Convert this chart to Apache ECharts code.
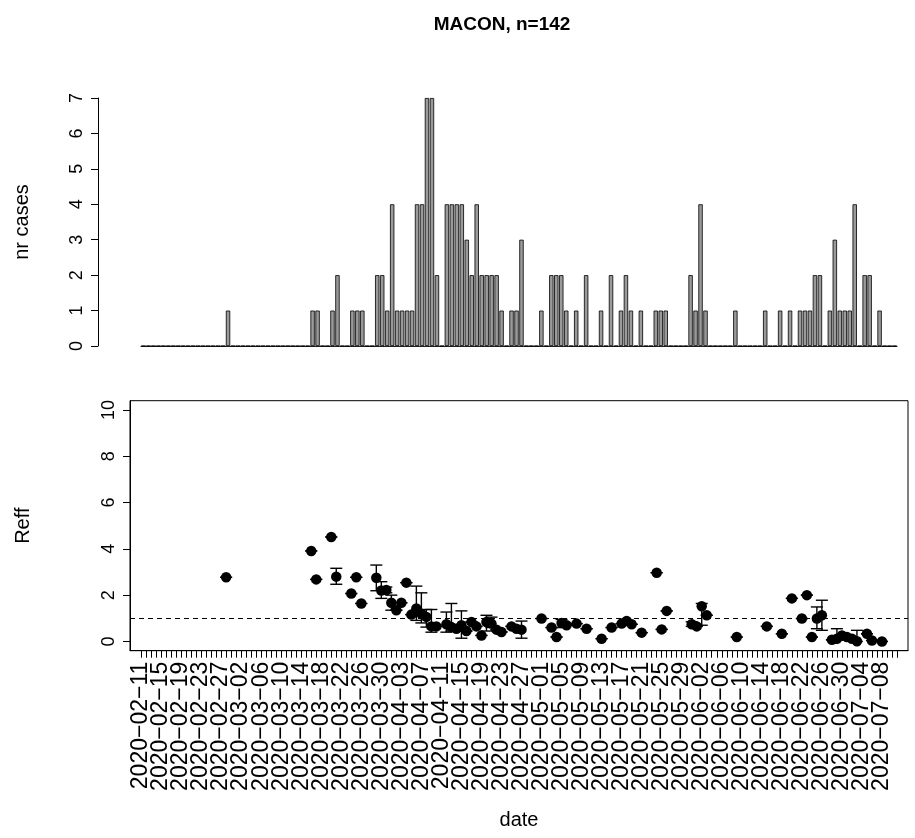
<!DOCTYPE html>
<html><head><meta charset="utf-8">
<script src="https://cdn.jsdelivr.net/npm/echarts@6/dist/echarts.min.js"></script>
<style>html,body{margin:0;padding:0;background:#fff}#c{width:915px;height:838px}</style>
</head><body><div id="c"></div>
<script>
const dates = [
'2020-02-11','2020-02-12','2020-02-13','2020-02-14','2020-02-15','2020-02-16','2020-02-17','2020-02-18','2020-02-19','2020-02-20',
'2020-02-21','2020-02-22','2020-02-23','2020-02-24','2020-02-25','2020-02-26','2020-02-27','2020-02-28','2020-02-29',
'2020-03-01','2020-03-02','2020-03-03','2020-03-04','2020-03-05','2020-03-06','2020-03-07','2020-03-08','2020-03-09','2020-03-10',
'2020-03-11','2020-03-12','2020-03-13','2020-03-14','2020-03-15','2020-03-16','2020-03-17','2020-03-18','2020-03-19','2020-03-20',
'2020-03-21','2020-03-22','2020-03-23','2020-03-24','2020-03-25','2020-03-26','2020-03-27','2020-03-28','2020-03-29','2020-03-30','2020-03-31',
'2020-04-01','2020-04-02','2020-04-03','2020-04-04','2020-04-05','2020-04-06','2020-04-07','2020-04-08','2020-04-09','2020-04-10',
'2020-04-11','2020-04-12','2020-04-13','2020-04-14','2020-04-15','2020-04-16','2020-04-17','2020-04-18','2020-04-19','2020-04-20',
'2020-04-21','2020-04-22','2020-04-23','2020-04-24','2020-04-25','2020-04-26','2020-04-27','2020-04-28','2020-04-29','2020-04-30',
'2020-05-01','2020-05-02','2020-05-03','2020-05-04','2020-05-05','2020-05-06','2020-05-07','2020-05-08','2020-05-09','2020-05-10',
'2020-05-11','2020-05-12','2020-05-13','2020-05-14','2020-05-15','2020-05-16','2020-05-17','2020-05-18','2020-05-19','2020-05-20',
'2020-05-21','2020-05-22','2020-05-23','2020-05-24','2020-05-25','2020-05-26','2020-05-27','2020-05-28','2020-05-29','2020-05-30','2020-05-31',
'2020-06-01','2020-06-02','2020-06-03','2020-06-04','2020-06-05','2020-06-06','2020-06-07','2020-06-08','2020-06-09','2020-06-10',
'2020-06-11','2020-06-12','2020-06-13','2020-06-14','2020-06-15','2020-06-16','2020-06-17','2020-06-18','2020-06-19','2020-06-20',
'2020-06-21','2020-06-22','2020-06-23','2020-06-24','2020-06-25','2020-06-26','2020-06-27','2020-06-28','2020-06-29','2020-06-30',
'2020-07-01','2020-07-02','2020-07-03','2020-07-04','2020-07-05','2020-07-06','2020-07-07','2020-07-08','2020-07-09','2020-07-10','2020-07-11'
];

const cases = [
0,0,0,0,0,0,0,0,0,0,
0,0,0,0,0,0,0,1,0,0,
0,0,0,0,0,0,0,0,0,0,
0,0,0,0,1,1,0,0,1,2,
0,0,1,1,1,0,0,2,2,1,
4,1,1,1,1,4,4,7,7,2,
0,4,4,4,4,3,2,4,2,2,
2,2,1,0,1,1,3,0,0,0,
1,0,2,2,2,1,0,1,0,2,
0,0,1,0,2,0,1,2,1,0,
1,0,0,1,1,1,0,0,0,0,
2,1,4,1,0,0,0,0,0,1,
0,0,0,0,0,1,0,0,1,0,
1,0,1,1,1,2,2,0,1,3,
1,1,1,4,0,2,2,0,1,0,
0,0
];

const xLabelDates = [
'2020-02-11','2020-02-15','2020-02-19','2020-02-23','2020-02-27','2020-03-02','2020-03-06','2020-03-10','2020-03-14','2020-03-18',
'2020-03-22','2020-03-26','2020-03-30','2020-04-03','2020-04-07','2020-04-11','2020-04-15','2020-04-19','2020-04-23','2020-04-27',
'2020-05-01','2020-05-05','2020-05-09','2020-05-13','2020-05-17','2020-05-21','2020-05-25','2020-05-29','2020-06-02','2020-06-06',
'2020-06-10','2020-06-14','2020-06-18','2020-06-22','2020-06-26','2020-06-30','2020-07-04','2020-07-08'
];
const caseTicks = [0,1,2,3,4,5,6,7];
const reffTicks = [0,2,4,6,8,10];
const reffThreshold = 1;

const reffDates = [
'2020-02-28','2020-03-16','2020-03-17','2020-03-20','2020-03-21','2020-03-24','2020-03-25','2020-03-26','2020-03-29','2020-03-30',
'2020-03-31','2020-04-01','2020-04-02','2020-04-03','2020-04-04','2020-04-05','2020-04-06','2020-04-07','2020-04-08','2020-04-09',
'2020-04-10','2020-04-12','2020-04-13','2020-04-14','2020-04-15','2020-04-16','2020-04-17','2020-04-18','2020-04-19','2020-04-20',
'2020-04-21','2020-04-22','2020-04-23','2020-04-25','2020-04-26','2020-04-27','2020-05-01','2020-05-03','2020-05-04','2020-05-05',
'2020-05-06','2020-05-08','2020-05-10','2020-05-13','2020-05-15','2020-05-17','2020-05-18','2020-05-19','2020-05-21','2020-05-24',
'2020-05-25','2020-05-26','2020-05-31','2020-06-01','2020-06-02','2020-06-03','2020-06-09','2020-06-15','2020-06-18','2020-06-20',
'2020-06-22','2020-06-23','2020-06-24','2020-06-25','2020-06-26','2020-06-28','2020-06-29','2020-06-30','2020-07-01','2020-07-02',
'2020-07-03','2020-07-05','2020-07-06','2020-07-08'
];
const reffValue = [
2.77,3.91,2.68,4.51,2.80,2.07,2.77,1.64,2.75,2.20,
2.22,1.67,1.35,1.67,2.54,1.16,1.42,1.20,1.06,0.65,
0.65,0.74,0.62,0.55,0.70,0.45,0.84,0.65,0.26,0.84,
0.77,0.51,0.41,0.65,0.55,0.51,0.99,0.60,0.19,0.80,
0.70,0.77,0.55,0.12,0.60,0.77,0.88,0.74,0.38,2.97,
0.52,1.32,0.74,0.65,1.52,1.13,0.19,0.65,0.33,1.86,
0.99,2.00,0.19,0.99,1.13,0.07,0.12,0.26,0.19,0.12,
0.01,0.33,0.04,0.00
];
const reffLow = [
2.77,3.91,2.68,4.51,2.47,2.07,2.77,1.64,2.19,1.86,
2.10,1.35,1.35,1.67,2.54,1.16,0.91,0.80,0.62,0.40,
0.65,0.40,0.45,0.55,0.14,0.45,0.84,0.65,0.26,0.45,
0.60,0.51,0.41,0.65,0.55,0.14,0.99,0.60,0.19,0.60,
0.70,0.77,0.55,0.12,0.60,0.77,0.88,0.74,0.38,2.97,
0.52,1.32,0.65,0.65,0.70,1.13,0.19,0.65,0.33,1.86,
0.99,2.00,0.19,0.55,0.48,0.07,0.05,0.26,0.19,0.12,
0.00,0.33,0.04,0.00
];
const reffHigh = [
2.77,3.91,2.68,4.51,3.16,2.07,2.77,1.64,3.30,2.58,
2.35,2.00,1.35,1.67,2.54,1.16,2.39,2.10,1.38,1.38,
0.65,1.27,1.64,0.55,1.32,0.45,0.84,0.65,0.26,1.13,
1.05,0.51,0.41,0.65,0.55,0.88,0.99,0.60,0.19,0.95,
0.70,0.77,0.55,0.12,0.60,0.77,0.88,0.74,0.38,2.97,
0.52,1.32,0.85,0.65,1.64,1.13,0.19,0.65,0.33,1.86,
0.99,2.00,0.19,1.49,1.78,0.07,0.55,0.26,0.19,0.12,
0.48,0.33,0.04,0.00
];

const FONT = '"Liberation Sans", Arial, Helvetica, sans-serif';
const FS = 18;
const FS_NAME = 20;
const FS_DATE = 23;
const dayIdx = d => dates.indexOf(d);
// R's PDF device draws '-' with the minus glyph
const asDrawn = s => s.replace(/-/g, '\u2212');
// labels are split over two overlaid axes so that none of them gets auto-hidden
const labelsA = xLabelDates.filter((d, k) => k % 2 === 0).map(dayIdx);
const labelsB = xLabelDates.filter((d, k) => k % 2 === 1).map(dayIdx);

const dateLabel = vals => ({
  show: true, rotate: 90, fontSize: FS_DATE, fontFamily: FONT, color: '#000', margin: 11,
  showMinLabel: true, showMaxLabel: true, hideOverlap: false,
  customValues: vals, formatter: v => asDrawn(dates[Math.round(v)])
});

const chart = echarts.init(document.getElementById('c'), null, {renderer: 'canvas'});
chart.setOption({
  animation: false,
  backgroundColor: '#fff',
  textStyle: {fontFamily: FONT, color: '#000'},
  title: {
    text: 'MACON, n=142', left: 497, top: 10, textAlign: 'center',
    textStyle: {fontFamily: FONT, fontWeight: 'bold', fontSize: 19, color: '#000'}
  },
  grid: [
    {left: 141, right: 18, top: 98, height: 248, show: false},
    {left: 130, right: 7, top: 400.7, height: 250, show: true, borderColor: '#000', borderWidth: 1, backgroundColor: 'transparent'}
  ],
  xAxis: [
    {gridIndex: 0, type: 'category', data: dates, boundaryGap: true,
     axisLine: {show: true, lineStyle: {color: '#222', width: 1.2}},
     axisTick: {show: false}, axisLabel: {show: false}, splitLine: {show: false}},
    {gridIndex: 1, type: 'value', min: -2.2, max: 153.2, position: 'bottom',
     axisLine: {show: true, onZero: false, lineStyle: {color: '#000', width: 1}},
     axisTick: {show: true, length: 7, lineStyle: {color: '#000', width: 1},
                customValues: dates.map((d, i) => i)},
     axisLabel: dateLabel(labelsA),
     splitLine: {show: false},
     name: 'date', nameLocation: 'middle', nameGap: 160,
     nameTextStyle: {fontSize: FS_NAME, fontFamily: FONT, color: '#000'}},
    {gridIndex: 1, type: 'value', min: -2.2, max: 153.2, position: 'bottom', offset: 0,
     axisLine: {show: false, onZero: false},
     axisTick: {show: false},
     axisLabel: dateLabel(labelsB),
     splitLine: {show: false}}
  ],
  yAxis: [
    {gridIndex: 0, type: 'value', min: 0, max: 7, interval: 1, offset: 43,
     axisLine: {show: true, lineStyle: {color: '#000', width: 1}},
     axisTick: {show: true, length: 7, lineStyle: {color: '#000'}},
     axisLabel: {rotate: 90, fontSize: FS, fontFamily: FONT, color: '#000', margin: 12,
                 showMinLabel: true, showMaxLabel: true, customValues: caseTicks},
     splitLine: {show: false},
     name: 'nr cases', nameLocation: 'middle', nameRotate: 90, nameGap: 66,
     nameTextStyle: {fontSize: FS_NAME, fontFamily: FONT, color: '#000'}},
    {gridIndex: 1, type: 'value', min: -0.4, max: 10.4,
     axisLine: {show: true, onZero: false, lineStyle: {color: '#000', width: 1}},
     axisTick: {show: true, length: 7, lineStyle: {color: '#000'}, customValues: reffTicks},
     axisLabel: {rotate: 90, fontSize: FS, fontFamily: FONT, color: '#000', margin: 12,
                 showMinLabel: true, showMaxLabel: true, customValues: reffTicks},
     splitLine: {show: false},
     name: 'Reff', nameLocation: 'middle', nameRotate: 90, nameGap: 97,
     nameTextStyle: {fontSize: FS_NAME, fontFamily: FONT, color: '#000'}}
  ],
  series: [
    {type: 'bar', xAxisIndex: 0, yAxisIndex: 0, data: cases, barWidth: '88%',
     itemStyle: {color: '#9a9a9a', borderColor: '#000', borderWidth: 0.8}},
    {type: 'custom', xAxisIndex: 1, yAxisIndex: 1, z: 3,
     data: reffDates.map((d, k) => [dayIdx(d), reffLow[k], reffHigh[k]]),
     encode: {x: 0, y: [1, 2]},
     renderItem: function (params, api) {
       const x = api.value(0);
       const lo = api.coord([x, api.value(1)]);
       const hi = api.coord([x, api.value(2)]);
       const w = 6;
       const st = {stroke: '#000', lineWidth: 1.4, fill: null};
       return {type: 'group', children: [
         {type: 'line', shape: {x1: lo[0], y1: lo[1], x2: hi[0], y2: hi[1]}, style: st},
         {type: 'line', shape: {x1: lo[0] - w, y1: lo[1], x2: lo[0] + w, y2: lo[1]}, style: st},
         {type: 'line', shape: {x1: hi[0] - w, y1: hi[1], x2: hi[0] + w, y2: hi[1]}, style: st}
       ]};
     }},
    {type: 'scatter', xAxisIndex: 1, yAxisIndex: 1, z: 4,
     data: reffDates.map((d, k) => [dayIdx(d), reffValue[k]]),
     symbol: 'circle', symbolSize: 10.5, itemStyle: {color: '#000', opacity: 1},
     markLine: {silent: true, symbol: 'none', label: {show: false},
                lineStyle: {color: '#000', type: [5, 4], width: 1.2},
                data: [{yAxis: reffThreshold}]}}
  ]
});
</script></body></html>
